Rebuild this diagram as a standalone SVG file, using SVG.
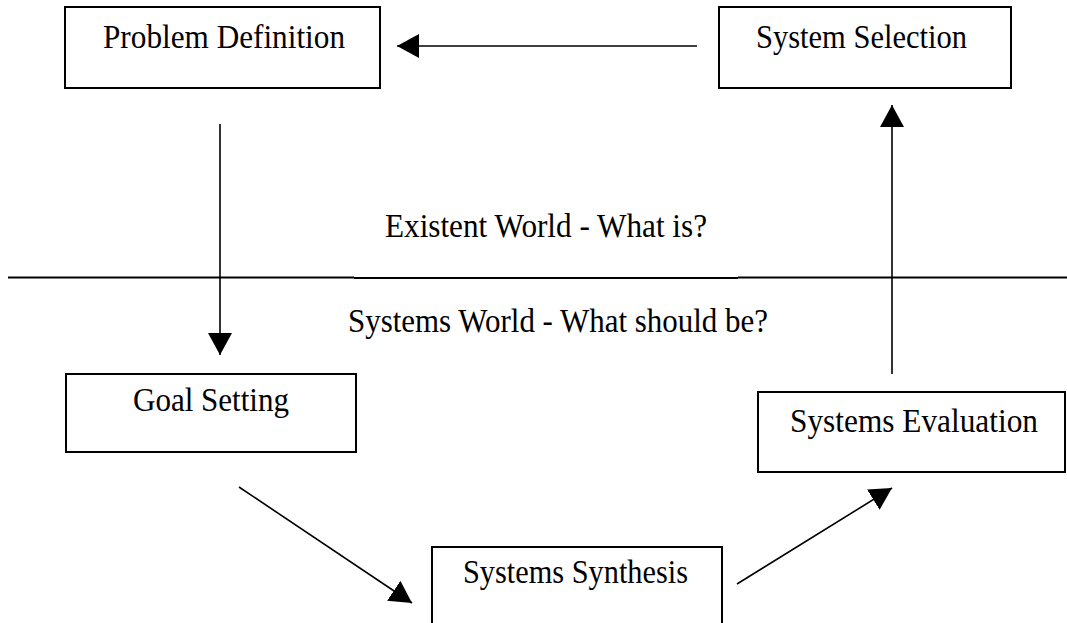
<svg xmlns="http://www.w3.org/2000/svg" width="1067" height="623" viewBox="0 0 1067 623">
  <style>
    .box { fill: #ffffff; stroke: #000000; stroke-width: 2; }
    .lbl { font-family: "Liberation Serif", "Times New Roman", serif; font-size: 33px; fill: #000000; }
    .conn { stroke: #000000; stroke-width: 1.6; fill: none; }
    .div { stroke: #000000; stroke-width: 2; fill: none; }
  </style>
  <defs>
    <marker id="arrow" markerUnits="userSpaceOnUse" viewBox="0 0 22 24" refX="22" refY="12" markerWidth="22" markerHeight="24" orient="auto">
      <path d="M0,0 L22,12 L0,24 z" fill="#000000"/>
    </marker>
  </defs>
  <rect width="1067" height="623" fill="#ffffff"/>

  <g id="divider">
    <line class="div" x1="8" y1="277.5" x2="354" y2="277.5"/>
    <line class="div" x1="354" y1="278" x2="738" y2="278" stroke-width="1.6"/>
    <line class="div" x1="738" y1="277.5" x2="1067" y2="277.5"/>
    <text class="lbl" x="385" y="237" textLength="322" lengthAdjust="spacingAndGlyphs">Existent World - What is?</text>
    <text class="lbl" x="348" y="332" textLength="420" lengthAdjust="spacingAndGlyphs">Systems World - What should be?</text>
  </g>

  <g id="connectors">
    <line class="conn" x1="697" y1="46" x2="397" y2="46" marker-end="url(#arrow)"/>
    <line class="conn" x1="220" y1="124" x2="220" y2="355" marker-end="url(#arrow)"/>
    <line class="conn" x1="892" y1="374" x2="892" y2="105" marker-end="url(#arrow)"/>
    <line class="conn" x1="239" y1="487" x2="412" y2="603" marker-end="url(#arrow)"/>
    <line class="conn" x1="737" y1="584" x2="892" y2="488" marker-end="url(#arrow)"/>
  </g>

  <g id="problem-definition">
    <rect class="box" x="65" y="7" width="315" height="81"/>
    <text class="lbl" x="103" y="48" textLength="242" lengthAdjust="spacingAndGlyphs">Problem Definition</text>
  </g>

  <g id="system-selection">
    <rect class="box" x="719" y="7" width="292" height="81"/>
    <text class="lbl" x="756" y="48" textLength="211" lengthAdjust="spacingAndGlyphs">System Selection</text>
  </g>

  <g id="goal-setting">
    <rect class="box" x="66" y="374" width="290" height="78"/>
    <text class="lbl" x="133" y="411" textLength="156" lengthAdjust="spacingAndGlyphs">Goal Setting</text>
  </g>

  <g id="systems-evaluation">
    <rect class="box" x="758" y="392" width="307" height="80"/>
    <text class="lbl" x="790" y="432" textLength="248" lengthAdjust="spacingAndGlyphs">Systems Evaluation</text>
  </g>

  <g id="systems-synthesis">
    <rect class="box" x="432" y="547" width="290" height="90"/>
    <text class="lbl" x="463" y="583" textLength="225" lengthAdjust="spacingAndGlyphs">Systems Synthesis</text>
  </g>
</svg>
